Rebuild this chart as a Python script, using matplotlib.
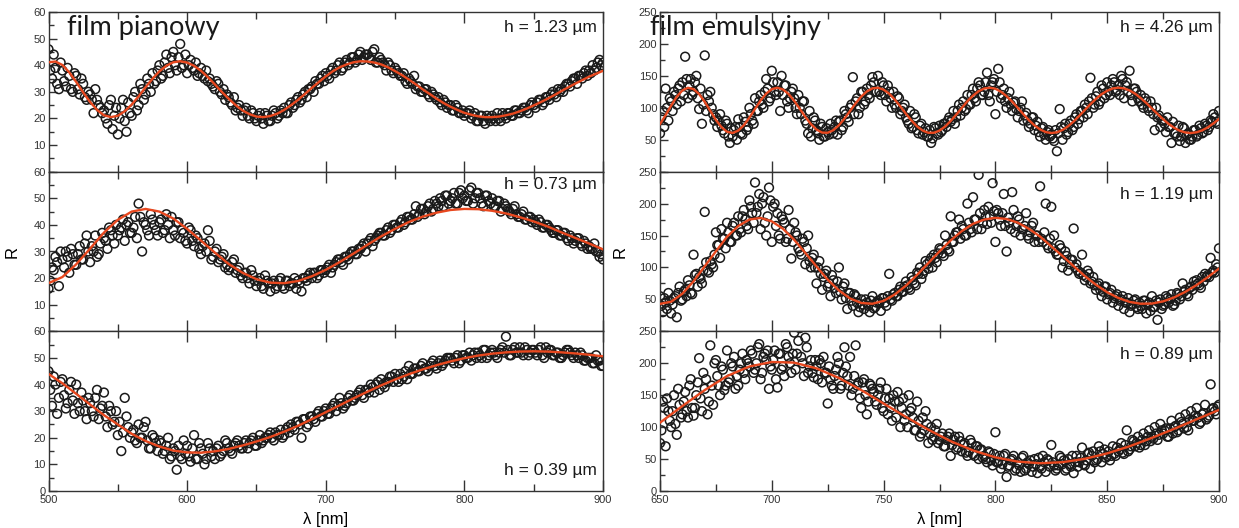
import numpy as np
import matplotlib
matplotlib.use("Agg")
import matplotlib.pyplot as plt
from matplotlib.ticker import MultipleLocator

# ---------------------------------------------------------------
# data
# left column: "film pianowy", right column: "film emulsyjny"
# points are sampled on a regular wavelength grid (nm); the *_b lists
# are a second pass sitting half a step later
# ---------------------------------------------------------------

# h = 1.23 um  (fit every 5 nm, points every 2.5 nm from 500, second pass from 501.25)
l1_fit = [41.1, 41.4, 40.1, 37.3, 33.7, 29.8, 26.2, 23.2, 21.2, 20.5,
          21.0, 22.7, 25.2, 28.3, 31.7, 34.9, 37.7, 39.8, 41.1, 41.5,
          41.0, 39.8, 37.9, 35.5, 32.8, 30.0, 27.4, 25.0, 23.0, 21.6,
          20.7, 20.5, 20.9, 21.8, 23.2, 25.0, 27.0, 29.2, 31.5, 33.7,
          35.8, 37.7, 39.2, 40.3, 41.1, 41.5, 41.4, 41.0, 40.3, 39.2,
          37.8, 36.3, 34.6, 32.8, 30.9, 29.2, 27.4, 25.8, 24.4, 23.2,
          22.1, 21.4, 20.8, 20.5, 20.5, 20.7, 21.2, 21.8, 22.7, 23.7,
          24.9, 26.1, 27.4, 28.8, 30.3, 31.7, 33.1, 34.4, 35.7, 36.8,
          37.9]
l1_pts = [46, 35, 39, 31, 38, 32, 36, 30, 36, 29, 33, 27, 29, 22, 27, 24, 23, 18, 27, 21,
          14, 24, 19, 26, 21, 30, 25, 31, 29, 33, 37, 34, 40, 36, 44, 37, 45, 38, 48, 40,
          37, 42, 38, 36, 39, 35, 34, 33, 31, 33, 29, 27, 28, 25, 23, 25, 21, 24, 20, 22,
          19, 22, 18, 21, 19, 23, 20, 23, 24, 22, 26, 25, 28, 27, 30, 31, 32, 34, 33, 36,
          37, 35, 39, 38, 41, 39, 42, 41, 43, 42, 45, 43, 44, 42, 46, 41, 42, 40, 41, 38,
          39, 37, 36, 34, 35, 33, 31, 32, 30, 31, 28, 29, 27, 26, 27, 24, 25, 23, 24, 22,
          21, 22, 20, 22, 19, 21, 18, 20, 21, 19, 20, 22, 20, 22, 21, 23, 22, 24, 23, 25,
          25, 26, 27, 26, 28, 29, 29, 31, 31, 32, 33, 34, 35, 36, 35, 38, 38, 40, 39, 42,
          41]
l1_pts_b = [38, 44, 33, 41, 34, 39, 31, 37, 31, 35, 28, 30, 27, 31, 25, 22, 20, 25, 16, 24,
            20, 27, 15, 22, 28, 23, 33, 27, 35, 30, 33, 38, 35, 41, 39, 43, 40, 43, 39, 44,
            40, 39, 41, 37, 36, 38, 35, 32, 34, 30, 31, 29, 26, 28, 24, 23, 23, 21, 23, 20,
            21, 20, 22, 19, 21, 22, 21, 22, 22, 25, 24, 27, 26, 29, 28, 31, 30, 33, 35, 34,
            36, 38, 37, 40, 38, 41, 40, 43, 41, 44, 42, 44, 43, 45, 41, 43, 41, 38, 40, 37,
            38, 36, 37, 33, 34, 36, 32, 30, 31, 29, 30, 28, 28, 25, 26, 25, 23, 25, 22, 23,
            22, 23, 21, 19, 21, 19, 21, 19, 20, 22, 19, 21, 22, 21, 23, 22, 23, 24, 22, 26,
            24, 27, 25, 28, 27, 30, 28, 30, 30, 33, 32, 35, 33, 36, 37, 36, 37, 38, 41, 40]

# h = 0.73 um  (fit every 10 nm)
l2_fit = [18.1, 20.4, 25.2, 31.1, 37.1, 41.9, 45.0, 46.0, 45.0, 42.4,
          38.5, 34.1, 29.6, 25.3, 22.0, 19.6, 18.3, 18.1, 18.9, 20.7,
          23.1, 26.0, 29.2, 32.5, 35.7, 38.5, 41.1, 43.1, 44.6, 45.6,
          46.0, 45.9, 45.3, 44.3, 42.9, 41.3, 39.4, 37.2, 35.1, 33.0,
          30.8]
l2_pts = [16, 24, 28, 17, 27, 30, 22, 29, 25, 32, 27, 36, 26, 30, 28, 33, 35, 31, 38, 33,
          36, 39, 34, 41, 37, 43, 48, 30, 40, 36, 42, 38, 41, 37, 44, 35, 38, 41, 35, 37,
          33, 38, 32, 35, 29, 33, 38, 27, 30, 26, 28, 24, 23, 26, 22, 24, 20, 22, 18, 21,
          17, 20, 16, 19, 15, 19, 17, 20, 16, 19, 18, 20, 19, 15, 20, 21, 20, 22, 21, 23,
          23, 25, 24, 26, 27, 25, 28, 29, 30, 29, 31, 33, 33, 35, 34, 36, 37, 36, 39, 38,
          40, 39, 42, 41, 43, 42, 47, 44, 46, 45, 48, 46, 48, 50, 47, 51, 49, 52, 48, 53,
          51, 49, 54, 50, 52, 48, 51, 49, 50, 47, 49, 46, 47, 45, 46, 44, 43, 45, 42, 43,
          42, 40, 41, 39, 40, 38, 37, 38, 36, 37, 34, 35, 34, 35, 32, 33, 32, 31, 30, 28,
          27]
l2_pts_b = [19, 23, 26, 30, 24, 28, 31, 25, 29, 27, 33, 30, 32, 36, 29, 37, 34, 39, 36, 40,
            38, 42, 40, 37, 39, 35, 43, 41, 38, 44, 40, 36, 42, 38, 40, 43, 36, 41, 38, 34,
            39, 34, 36, 31, 32, 30, 34, 28, 31, 27, 29, 25, 24, 27, 23, 21, 22, 20, 23, 19,
            19, 17, 21, 18, 18, 16, 19, 17, 19, 17, 18, 16, 18, 20, 19, 22, 22, 20, 23, 22,
            24, 22, 25, 27, 26, 28, 27, 30, 29, 31, 32, 30, 34, 32, 35, 37, 36, 38, 37, 40,
            39, 41, 40, 43, 42, 44, 43, 46, 44, 47, 45, 49, 47, 49, 51, 48, 50, 48, 52, 50,
            49, 53, 48, 52, 50, 47, 51, 48, 47, 49, 45, 48, 46, 44, 47, 43, 44, 42, 43, 41,
            41, 42, 39, 40, 39, 37, 38, 36, 37, 35, 36, 33, 35, 33, 34, 31, 31, 33, 30, 29]

# h = 0.39 um
l3_fit = [44, 40.5, 36.5, 32.5, 28.5, 25, 21.5, 18.8, 16.7, 15.2,
          14.5, 14.4, 14.9, 15.8, 17.1, 18.6, 20.3, 22.3, 24.5, 27,
          29.6, 32.2, 34.8, 37.3, 39.7, 41.9, 43.9, 45.7, 47.3, 48.7,
          49.9, 50.9, 51.6, 52.1, 52.4, 52.5, 52.4, 52.1, 51.7, 51.2,
          50.6]
l3_pts = [45, 32, 40, 35, 42, 31, 38, 34, 40, 30, 34, 27, 33, 28, 38, 31, 37, 24, 30, 26,
          21, 15, 35, 24, 22, 19, 25, 20, 26, 16, 21, 18, 19, 14, 17, 12, 16, 8, 13, 19,
          17, 11, 21, 12, 16, 10, 18, 13, 12, 17, 14, 19, 16, 14, 18, 17, 16, 19, 18, 20,
          17, 21, 19, 20, 22, 19, 21, 23, 21, 24, 25, 23, 26, 20, 27, 25, 28, 26, 30, 28,
          31, 29, 32, 30, 35, 31, 33, 36, 34, 36, 38, 35, 38, 40, 37, 41, 42, 39, 41, 43,
          44, 41, 42, 45, 47, 44, 46, 45, 48, 46, 47, 49, 46, 49, 48, 50, 50, 48, 51, 49,
          51, 50, 49, 52, 52, 50, 53, 51, 53, 51, 52, 54, 58, 51, 53, 52, 54, 51, 53, 52,
          53, 51, 54, 50, 52, 53, 51, 52, 50, 52, 53, 51, 52, 50, 51, 49, 50, 48, 51, 49,
          47]
l3_pts_b = [38, 43, 29, 41, 36, 33, 41, 29, 33, 37, 30, 35, 30, 35, 27, 32, 28, 32, 25, 30,
            26, 22, 28, 20, 23, 18, 20, 24, 19, 16, 20, 15, 18, 15, 20, 13, 15, 17, 12, 14,
            13, 16, 12, 18, 14, 12, 16, 15, 16, 13, 15, 18, 15, 17, 19, 16, 18, 16, 19, 17,
            19, 18, 20, 21, 20, 22, 21, 20, 23, 22, 24, 26, 25, 27, 24, 28, 27, 29, 28, 30,
            29, 31, 33, 32, 33, 32, 35, 34, 35, 37, 36, 38, 37, 39, 40, 38, 40, 41, 43, 41,
            42, 44, 43, 42, 44, 46, 45, 47, 46, 45, 48, 47, 48, 47, 49, 50, 49, 50, 48, 51,
            50, 52, 51, 50, 51, 53, 50, 52, 52, 50, 53, 52, 53, 51, 54, 52, 52, 54, 51, 53,
            52, 53, 51, 54, 53, 51, 52, 50, 51, 53, 52, 50, 51, 52, 49, 50, 50, 48, 49, 47]

# h = 4.26 um  (fit every 2.5 nm, points every 1.25 nm, 650..900)
r1_fit = [74.5, 88.4, 103.6, 117.4, 127.2, 131.4, 129.3, 121.5, 109.4, 95.2,
          81.0, 69.7, 62.4, 60.6, 64.3, 72.7, 84.7, 98.3, 111.4, 122.2,
          129.2, 131.5, 128.7, 121.6, 111.0, 98.5, 85.8, 74.5, 65.9, 61.2,
          60.9, 64.9, 72.6, 83.1, 95.0, 107.0, 117.6, 125.6, 130.4, 131.4,
          128.4, 122.1, 112.9, 102.1, 90.7, 80.0, 70.8, 64.3, 60.9, 60.9,
          64.3, 70.6, 79.3, 89.3, 100.0, 110.4, 119.1, 126.0, 130.2, 131.5,
          129.8, 125.1, 118.3, 109.7, 100.0, 90.0, 80.6, 72.4, 66.1, 62.0,
          60.5, 61.6, 65.3, 71.0, 78.6, 87.3, 96.5, 105.7, 114.1, 121.4,
          126.7, 130.3, 131.5, 130.4, 127.2, 122.1, 115.2, 107.5, 98.9, 90.3,
          82.2, 74.7, 68.5, 64.0, 61.3, 60.5, 61.7, 64.7, 69.4, 75.5,
          82.6]
r1_pts = [60, 95, 130, 80, 110, 125, 105, 135, 140, 180, 115, 145, 125, 150, 98, 75, 182, 120, 125, 90,
          85, 80, 72, 60, 75, 45, 55, 70, 82, 60, 85, 65, 100, 80, 115, 95, 120, 100, 145, 110,
          158, 125, 140, 95, 120, 135, 100, 125, 115, 90, 100, 110, 80, 60, 55, 85, 65, 50, 70, 55,
          62, 75, 60, 80, 78, 65, 95, 85, 100, 148, 110, 90, 125, 105, 130, 115, 148, 125, 150, 120,
          135, 110, 125, 100, 105, 118, 90, 100, 85, 75, 68, 90, 65, 72, 58, 68, 55, 45, 70, 60,
          72, 65, 75, 80, 78, 95, 85, 105, 100, 95, 120, 105, 130, 110, 140, 120, 125, 155, 110, 140,
          90, 161, 115, 130, 100, 125, 95, 110, 85, 100, 80, 92, 70, 85, 65, 78, 55, 70, 50, 65,
          58, 48, 32, 98, 50, 75, 62, 80, 70, 90, 82, 95, 105, 90, 147, 100, 118, 105, 135, 115,
          140, 120, 145, 125, 135, 150, 115, 140, 158, 110, 130, 115, 120, 100, 110, 95, 100, 65, 85, 70,
          80, 62, 70, 45, 60, 55, 48, 70, 45, 60, 50, 65, 55, 72, 60, 75, 65, 80, 90, 78,
          95]
r1_pts_b = [85, 70, 100, 115, 95, 120, 130, 110, 120, 145, 135, 120, 140, 115, 130, 105, 95, 110, 100, 80,
            70, 90, 65, 80, 55, 68, 65, 50, 70, 58, 78, 70, 90, 75, 95, 110, 105, 125, 130, 115,
            140, 120, 125, 150, 135, 110, 115, 130, 100, 120, 90, 110, 75, 95, 68, 80, 60, 75, 55, 68,
            58, 65, 70, 58, 80, 70, 90, 78, 105, 90, 115, 100, 125, 110, 120, 135, 140, 125, 125, 140,
            120, 135, 115, 125, 100, 115, 95, 105, 80, 95, 70, 85, 60, 75, 62, 55, 65, 52, 68, 58,
            62, 75, 70, 85, 82, 75, 95, 88, 110, 98, 105, 120, 115, 130, 135, 120, 140, 120, 135, 145,
            125, 140, 120, 110, 115, 105, 108, 98, 95, 110, 88, 80, 75, 85, 72, 62, 68, 58, 62, 55,
            52, 65, 60, 70, 68, 58, 75, 65, 85, 75, 95, 85, 100, 110, 115, 105, 125, 110, 130, 120,
            125, 135, 140, 128, 120, 145, 135, 125, 120, 130, 125, 110, 105, 115, 100, 110, 90, 100, 88, 80,
            75, 85, 70, 78, 60, 72, 55, 68, 58, 50, 55, 65, 58, 68, 62, 72, 70, 78, 85, 75]

# h = 1.19 um  (fit every 5 nm)
r2_fit = [43.0, 46.4, 58.9, 78.3, 101.9, 125.3, 148.2, 164.9, 175.1, 177.6,
          172.2, 160.6, 143.4, 122.8, 101.5, 80.9, 64.1, 51.5, 44.4, 43.2,
          47.7, 57.7, 71.5, 88.5, 106.8, 125.2, 142.4, 157.0, 168.4, 175.0,
          177.7, 175.9, 170.2, 160.5, 148.4, 133.0, 118.0, 102.1, 86.6, 72.8,
          61.2, 52.2, 46.1, 43.2, 43.5, 46.9, 53.2, 61.9, 72.5, 84.9,
          98.2]
r2_pts = [55, 30, 45, 60, 28, 52, 22, 70, 50, 65, 80, 60, 120, 90, 85, 75, 187, 95, 110, 100,
          155, 135, 160, 145, 170, 140, 165, 150, 180, 155, 190, 165, 205, 185, 233, 195, 160, 210, 150, 225,
          140, 200, 185, 145, 175, 140, 190, 114, 170, 150, 125, 145, 105, 150, 100, 120, 75, 110, 65, 90,
          70, 55, 80, 60, 100, 50, 75, 35, 60, 40, 55, 30, 50, 35, 45, 30, 55, 38, 48, 32,
          52, 40, 90, 48, 60, 55, 70, 62, 78, 68, 85, 75, 92, 100, 90, 110, 98, 115, 120, 108,
          130, 122, 150, 128, 180, 140, 155, 175, 165, 150, 200, 160, 210, 175, 245, 160, 190, 168, 180, 232,
          140, 185, 165, 215, 125, 170, 218, 155, 180, 150, 160, 185, 145, 165, 140, 150, 227, 140, 200, 130,
          195, 150, 120, 135, 100, 125, 95, 112, 161, 105, 90, 120, 80, 95, 75, 85, 65, 75, 55, 70,
          50, 60, 45, 55, 40, 50, 35, 45, 30, 42, 50, 35, 40, 48, 28, 45, 55, 38, 18, 50,
          40, 55, 45, 58, 42, 60, 50, 75, 65, 55, 70, 78, 80, 72, 85, 90, 88, 115, 95, 105,
          130]
r2_pts_b = [40, 52, 35, 48, 42, 55, 60, 48, 62, 55, 72, 58, 88, 70, 82, 95, 108, 92, 105, 120,
            135, 115, 145, 130, 155, 140, 170, 150, 160, 180, 175, 160, 195, 170, 185, 215, 200, 170, 180, 205,
            195, 165, 150, 180, 170, 145, 160, 140, 155, 130, 120, 140, 130, 110, 115, 100, 100, 90, 85, 95,
            75, 88, 68, 78, 62, 70, 52, 60, 48, 58, 45, 38, 42, 50, 40, 48, 36, 45, 44, 52,
            45, 55, 50, 58, 55, 65, 62, 70, 72, 65, 80, 72, 90, 82, 95, 105, 110, 100, 115, 122,
            128, 118, 135, 125, 140, 150, 155, 145, 160, 150, 170, 155, 175, 160, 185, 170, 180, 195, 170, 188,
            190, 175, 185, 165, 178, 160, 190, 165, 175, 160, 165, 150, 155, 170, 150, 140, 145, 155, 135, 145,
            130, 125, 120, 130, 110, 118, 105, 112, 100, 95, 92, 88, 85, 90, 78, 72, 72, 65, 62, 70,
            58, 65, 52, 58, 48, 55, 45, 52, 40, 48, 38, 45, 35, 48, 42, 32, 38, 48, 45, 35,
            42, 52, 50, 40, 48, 58, 55, 62, 58, 68, 65, 72, 75, 68, 78, 85, 85, 92, 92, 100]

# h = 0.89 um  (fit every 10 nm)
r3_fit = [107, 133, 158, 180, 195, 202, 201, 192, 177, 158,
          137, 116, 96, 78, 63.5, 52.7, 46, 43.5, 45.1, 50.4,
          58.9, 70, 83.2, 97.4, 112.3, 127]
r3_pts = [75, 140, 70, 125, 100, 150, 88, 135, 120, 155, 115, 175, 118, 150, 208, 125, 160, 120, 228, 135,
          205, 165, 195, 158, 220, 175, 195, 160, 165, 200, 185, 205, 195, 215, 190, 225, 175, 210, 205, 160,
          190, 220, 162, 215, 195, 230, 210, 185, 248, 215, 255, 200, 240, 185, 205, 178, 195, 205, 170, 185,
          137, 175, 160, 190, 200, 165, 225, 180, 210, 160, 228, 170, 130, 175, 120, 168, 160, 140, 150, 170,
          125, 160, 145, 110, 140, 155, 100, 145, 120, 150, 130, 95, 140, 85, 115, 125, 75, 100, 85, 105,
          80, 90, 70, 85, 55, 80, 65, 85, 62, 75, 55, 80, 58, 70, 50, 65, 55, 45, 60, 40,
          92, 45, 35, 55, 22, 40, 50, 32, 45, 30, 55, 35, 42, 30, 50, 28, 38, 55, 30, 48,
          72, 40, 35, 55, 42, 32, 50, 38, 28, 55, 45, 68, 40, 58, 35, 62, 48, 70, 45, 65,
          55, 48, 70, 55, 62, 75, 58, 95, 65, 80, 70, 85, 72, 90, 78, 95, 85, 100, 80, 105,
          90, 98, 85, 110, 100, 92, 115, 105, 120, 95, 125, 110, 130, 105, 120, 135, 115, 167, 130, 120,
          135]
r3_pts_b = [95, 130, 145, 110, 125, 105, 160, 115, 140, 125, 165, 130, 130, 170, 145, 185, 175, 140, 165, 200,
            180, 150, 190, 165, 170, 200, 210, 180, 190, 215, 175, 200, 220, 185, 200, 230, 185, 215, 220, 195,
            205, 175, 215, 190, 180, 225, 200, 215, 190, 235, 210, 180, 225, 195, 185, 205, 175, 200, 210, 185,
            195, 165, 180, 210, 160, 185, 195, 165, 150, 180, 165, 145, 170, 150, 140, 165, 155, 135, 160, 130,
            145, 120, 130, 150, 115, 140, 130, 110, 100, 125, 115, 95, 110, 90, 95, 105, 90, 80, 95, 75,
            85, 70, 80, 90, 72, 85, 68, 78, 72, 60, 62, 75, 55, 70, 65, 52, 50, 62, 48, 58,
            45, 55, 42, 58, 38, 48, 55, 35, 40, 52, 32, 45, 48, 38, 42, 52, 35, 45, 50, 38,
            45, 32, 40, 52, 48, 35, 42, 55, 45, 38, 52, 42, 48, 60, 55, 45, 50, 62, 58, 52,
            62, 55, 58, 68, 65, 60, 72, 62, 70, 78, 75, 68, 80, 72, 85, 78, 82, 90, 88, 95,
            95, 85, 98, 90, 102, 95, 108, 98, 100, 112, 110, 118, 115, 108, 122, 112, 118, 128, 125, 132]

left_labels = ["h = 1.23 µm", "h = 0.73 µm", "h = 0.39 µm"]
right_labels = ["h = 4.26 µm", "h = 1.19 µm", "h = 0.89 µm"]

left_series = [(l1_pts, l1_pts_b, l1_fit), (l2_pts, l2_pts_b, l2_fit), (l3_pts, l3_pts_b, l3_fit)]
right_series = [(r1_pts, r1_pts_b, r1_fit), (r2_pts, r2_pts_b, r2_fit), (r3_pts, r3_pts_b, r3_fit)]

# ---------------------------------------------------------------
plt.rcParams['font.family'] = ['Liberation Sans', 'DejaVu Sans']

W, H = 1239, 528
fig = plt.figure(figsize=(W / 100, H / 100), dpi=100)

y_top, y_bot = 12, 491
ph = (y_bot - y_top) / 3.0

RED = '#e8481f'
INK = '#1a1a1a'


def make_column(x0, x1, series, labels, label_y, xlim, ylim, ymaj, ymin, xmaj, xmin,
                title, title_x, lab_pad):
    axes = []
    for i, (pts, pts_b, fit) in enumerate(series):
        top = y_top + i * ph
        ax = fig.add_axes([x0 / W, 1 - (top + ph) / H, (x1 - x0) / W, ph / H])
        xp = np.linspace(xlim[0], xlim[1], len(pts))
        ax.scatter(xp, pts, s=40, facecolors='none', edgecolors=INK, linewidths=1.1, zorder=2)
        if pts_b is not None:
            half = (xp[1] - xp[0]) / 2
            xb = np.linspace(xlim[0] + half, xlim[1] - half, len(pts_b))
            ax.scatter(xb, pts_b, s=40, facecolors='none', edgecolors=INK, linewidths=1.1, zorder=2)
        xf = np.linspace(xlim[0], xlim[1], len(fit))
        ax.plot(xf, fit, color=RED, lw=1.7, zorder=3)
        ax.set_xlim(*xlim)
        ax.set_ylim(*ylim)
        ax.xaxis.set_major_locator(MultipleLocator(xmaj))
        ax.xaxis.set_minor_locator(MultipleLocator(xmin))
        ax.yaxis.set_major_locator(MultipleLocator(ymaj))
        ax.yaxis.set_minor_locator(MultipleLocator(ymin))
        ax.tick_params(axis='x', which='major', direction='in', length=8, width=1, top=True,
                       labelsize=8, pad=3, colors='#333333', labelcolor='#333333')
        ax.tick_params(axis='x', which='minor', direction='in', length=5, width=1, top=True,
                       colors='#333333')
        ax.tick_params(axis='y', which='major', direction='in', length=6, width=1,
                       labelsize=8, pad=2, colors='#333333', labelcolor='#333333')
        ax.tick_params(axis='y', which='minor', direction='in', length=3.5, width=1,
                       colors='#333333')
        for sp in ax.spines.values():
            sp.set_linewidth(1.0)
            sp.set_color('#333333')
        if i < 2:
            ax.tick_params(axis='x', labelbottom=False)
            ax.set_yticks([t for t in ax.get_yticks() if ylim[0] < t <= ylim[1]])
            ax.yaxis.set_minor_locator(MultipleLocator(ymin))
        else:
            ax.set_xlabel('λ [nm]', fontsize=12, labelpad=5)
        if i == 1:
            ax.set_ylabel('R', fontsize=12, labelpad=lab_pad)
        ax.text(0.989, label_y[i], labels[i], transform=ax.transAxes, ha='right', va='center',
                fontsize=12.5, color=INK)
        axes.append(ax)
    axes[0].text(title_x, 0.90, title, transform=axes[0].transAxes, ha='left', va='center',
                 fontsize=19.5, family=['Lato', 'DejaVu Sans'], color=INK)
    return axes


make_column(48.5, 603, left_series, left_labels, [0.906, 0.917, 0.131],
            (500, 900), (0, 60), 10, 5, 100, 50, 'film pianowy', 0.034, 10)
make_column(660, 1219, right_series, right_labels, [0.906, 0.86, 0.852],
            (650, 900), (0, 250), 50, 25, 50, 25, 'film emulsyjny', -0.018, 8)

fig.savefig('out.png', dpi=100)
